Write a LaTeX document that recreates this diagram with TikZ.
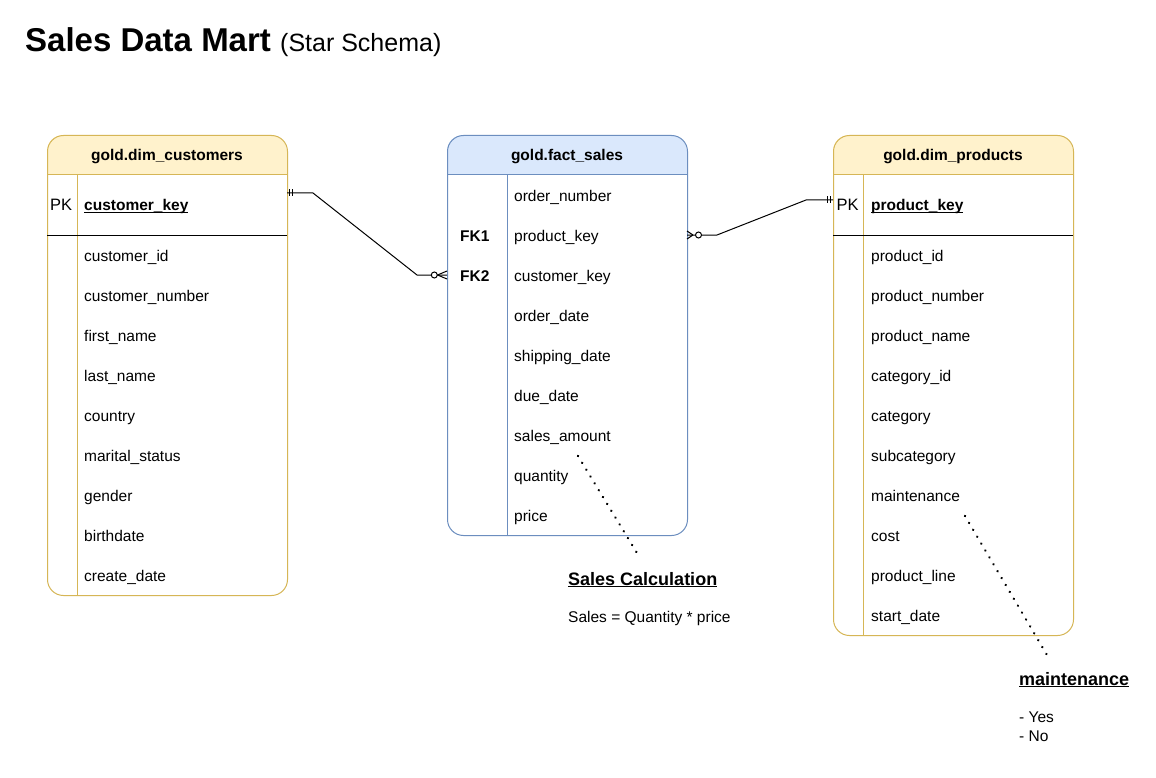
\documentclass[tikz,border=0pt]{standalone}
\usepackage{fontspec}
\setmainfont{Liberation Sans}
\definecolor{yhdr}{HTML}{FFF2CC}
\definecolor{ybrd}{HTML}{D6B656}
\definecolor{bhdr}{HTML}{DAE8FC}
\definecolor{bbrd}{HTML}{6C8EBF}
\newcommand\ulx[1]{\sbox0{#1}\rlap{\rule[-2.4pt]{\wd0}{1.2pt}}\usebox0}
% #1 name, #2 x0, #3 y0, #4 height, #5 header fill, #6 border, #7 divider offset
\newcommand\erbox[7]{%
  \begin{scope}
    \clip[rounded corners=16pt] (#2,#3) rectangle ++(240,#4);
    \fill[#5] (#2,#3) rectangle ++(240,40);
  \end{scope}
  \node[draw=#6, line width=1pt, rounded corners=16pt, minimum width=240pt,
        minimum height=#4pt, inner sep=0pt, anchor=north west] (#1) at (#2,#3) {};
  \draw[#6, line width=1pt] (#2,#3+40) -- ++(240,0);
  \draw[#6, line width=1pt] (#2+#7,#3+40) -- (#2+#7,#3+#4);
}
\tikzset{
  fld/.style={anchor=base west, inner sep=0pt, font=\fontsize{15.5}{18}\selectfont},
  hdr/.style={anchor=base, inner sep=0pt, font=\fontsize{15.5}{18}\selectfont\bfseries},
  keyf/.style={fld, font=\fontsize{15.5}{18}\selectfont\bfseries},
  anno/.style={anchor=base west, inner sep=0pt, font=\fontsize{18}{22}\selectfont\bfseries},
  conn/.style={black, line width=1pt},
  dots/.style={black, line width=2.6pt, line cap=round, dash pattern=on 0.01pt off 8pt},
}
\begin{document}
\begin{tikzpicture}[x=1pt, y=-1pt]
\fill[white] (0,0) rectangle (1156,778);
\useasboundingbox (0,0) rectangle (1156,778);

% title
\node[anchor=base west, inner sep=0pt, font=\fontsize{33}{40}\selectfont\bfseries] (title) at (25,52) {Sales Data Mart};
\node[anchor=base west, inner sep=0pt, font=\fontsize{25}{30}\selectfont] (subtitle) at (280,52) {(Star Schema)};

% ---------- customers
\erbox{cust}{47}{135}{460}{yhdr}{ybrd}{30}
\draw[black, line width=1pt] (47,235) -- (287,235);
\node[hdr] (custh) at (167,161) {gold.dim\_customers};
\node[fld, font=\fontsize{16.5}{19}\selectfont] (custpk) at (50,211) {PK};
\node[keyf] (custk) at (84,211) {\ulx{customer\_key}};
\node[fld] (c1) at (84,261) {customer\_id};
\node[fld] (c2) at (84,301) {customer\_number};
\node[fld] (c3) at (84,341) {first\_name};
\node[fld] (c4) at (84,381) {last\_name};
\node[fld] (c5) at (84,421) {country};
\node[fld] (c6) at (84,461) {marital\_status};
\node[fld] (c7) at (84,501) {gender};
\node[fld] (c8) at (84,541) {birthdate};
\node[fld] (c9) at (84,581) {create\_date};

% ---------- fact
\erbox{fact}{447}{135}{400}{bhdr}{bbrd}{60}
\node[hdr] (facth) at (567,161) {gold.fact\_sales};
\node[keyf] (fk1) at (460,241) {FK1};
\node[keyf] (fk2) at (460,281) {FK2};
\node[fld] (f1) at (514,201) {order\_number};
\node[fld] (f2) at (514,241) {product\_key};
\node[fld] (f3) at (514,281) {customer\_key};
\node[fld] (f4) at (514,321) {order\_date};
\node[fld] (f5) at (514,361) {shipping\_date};
\node[fld] (f6) at (514,401) {due\_date};
\node[fld] (f7) at (514,441) {sales\_amount};
\node[fld] (f8) at (514,481) {quantity};
\node[fld] (f9) at (514,521) {price};

% ---------- products
\erbox{prod}{833}{135}{500}{yhdr}{ybrd}{30}
\draw[black, line width=1pt] (833,235) -- (1073,235);
\node[hdr] (prodh) at (953,161) {gold.dim\_products};
\node[fld, font=\fontsize{16.5}{19}\selectfont] (prodpk) at (836.5,211) {PK};
\node[keyf] (prodk) at (871,211) {\ulx{product\_key}};
\node[fld] (p1) at (871,261) {product\_id};
\node[fld] (p2) at (871,301) {product\_number};
\node[fld] (p3) at (871,341) {product\_name};
\node[fld] (p4) at (871,381) {category\_id};
\node[fld] (p5) at (871,421) {category};
\node[fld] (p6) at (871,461) {subcategory};
\node[fld] (p7) at (871,501) {maintenance};
\node[fld] (p8) at (871,541) {cost};
\node[fld] (p9) at (871,581) {product\_line};
\node[fld] (p10) at (871,621) {start\_date};

% ---------- connectors
\coordinate (ckR) at (287,193);
\coordinate (ckB1) at (313,193);
\coordinate (ckB2) at (417,275);
\coordinate (fcL) at (447,275);
\coordinate (fcFoot) at (437.5,275);
\draw[conn] (ckR) -- (ckB1) -- (ckB2) -- (fcL);
\draw[conn] (289,189.5) -- (289,196.5);
\draw[conn] (292,189.5) -- (292,196.5);
\draw[conn] (fcFoot) -- (447,271);
\draw[conn] (fcFoot) -- (447,279);
\draw[conn, fill=white] (434.3,275) circle (3pt);

\coordinate (fpR) at (687,235);
\coordinate (fpB1) at (717,235);
\coordinate (fpB2) at (806,200);
\coordinate (pkL) at (833,200);
\coordinate (fpFoot) at (693,235);
\draw[conn] (fpR) -- (fpB1) -- (fpB2) -- (pkL);
\draw[conn] (fpFoot) -- (687,231);
\draw[conn] (fpFoot) -- (687,239);
\draw[conn, fill=white] (698.5,235) circle (3pt);
\draw[conn] (827.5,196.5) -- (827.5,203.5);
\draw[conn] (830.5,196.5) -- (830.5,203.5);

% ---------- annotations
\node[anno] (salesh) at (568,585) {\ulx{Sales Calculation}};
\node[fld] (salest) at (568,622) {Sales = Quantity * price};
\node[anno] (mainth) at (1019,685) {\ulx{maintenance}};
\node[fld] (mainty) at (1019,722) {- Yes};
\node[fld] (maintn) at (1019,741) {- No};

\coordinate (d1a) at (578,456);
\coordinate (d1b) at (637,553);
\draw[dots] (d1a) -- (d1b);
\coordinate (d2a) at (965,516);
\coordinate (d2b) at (1047,655);
\draw[dots] (d2a) -- (d2b);
\end{tikzpicture}
\end{document}
